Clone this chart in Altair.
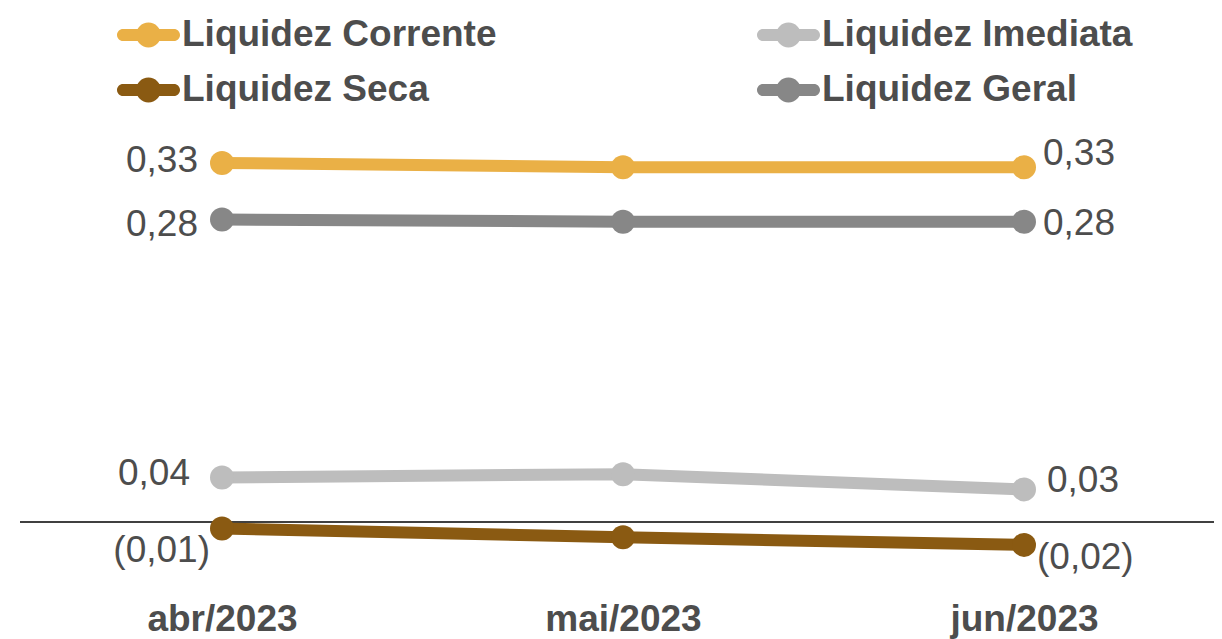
import altair as alt
import pandas as pd

months = ["abr/2023", "mai/2023", "jun/2023"]
series = ["Liquidez Corrente", "Liquidez Seca", "Liquidez Imediata", "Liquidez Geral"]
corrente = [0.330, 0.326, 0.326]
imediata = [0.041, 0.044, 0.030]
seca = [-0.006, -0.014, -0.021]
geral = [0.278, 0.276, 0.276]
colors = ["#EAB046", "#8A5A12", "#BDBDBD", "#878787"]

values = {
    "Liquidez Corrente": corrente,
    "Liquidez Imediata": imediata,
    "Liquidez Seca": seca,
    "Liquidez Geral": geral,
}
rows = []
for s in series:
    for i, m in enumerate(months):
        rows.append({"month": m, "series": s, "v": values[s][i], "idx": i})
df = pd.DataFrame(rows)

FONT = "Liberation Sans"
TXT = "#4D4D4D"

SYMBOL = ("M -1.275 -0.3 L 1.275 -0.3 A 0.3 0.3 0 0 1 1.275 0.3 L -1.275 0.3 "
          "A 0.3 0.3 0 0 1 -1.275 -0.3 Z M 0.62 0 A 0.62 0.62 0 1 1 -0.62 0 "
          "A 0.62 0.62 0 1 1 0.62 0 Z")

xscale = alt.Scale(range=[214, 1016], padding=0)
yscale = alt.Scale(domain=[-0.1075, 0.4724], nice=False, zero=False)
cscale = alt.Scale(domain=series, range=colors)

x_enc = alt.X("month:O", sort=months, scale=xscale, title=None,
              axis=alt.Axis(labelAngle=0, ticks=False, domain=False, grid=False,
                            labelFont=FONT, labelFontSize=37, labelFontWeight="bold",
                            labelColor=TXT, labelPadding=3, labelBaseline="top",
                            offset=-41))
y_enc = alt.Y("v:Q", scale=yscale, axis=None)

legend = alt.Legend(title=None, orient="none", legendX=120.5, legendY=7,
                    columns=2, columnPadding=259, rowPadding=17,
                    symbolType=SYMBOL, symbolSize=1600, symbolStrokeWidth=0,
                    symbolOpacity=1, labelFont=FONT, labelFontSize=37,
                    labelFontWeight="bold", labelColor=TXT, labelLimit=2000,
                    labelOffset=13.5, padding=0)
color_enc = alt.Color("series:N", scale=cscale, sort=series, legend=legend)

base = alt.Chart(df)

zero = alt.Chart(pd.DataFrame({"v": [0.0]})).mark_rule(color="black", strokeWidth=1.6).encode(
    y=alt.Y("v:Q", scale=yscale, axis=None), x=alt.value(12), x2=alt.value(1206))

lines = base.mark_line(strokeWidth=12, strokeCap="round").encode(
    x=x_enc, y=y_enc, color=color_enc, detail="series:N",
)
points = base.mark_circle(size=576, opacity=1).encode(
    x=x_enc, y=y_enc, color=color_enc,
)

left_off = {"Liquidez Corrente": (-24, 9), "Liquidez Geral": (-24, 16),
            "Liquidez Imediata": (-32, 8), "Liquidez Seca": (-12, 33)}
right_off = {"Liquidez Corrente": (19, -2), "Liquidez Geral": (19, 13),
             "Liquidez Imediata": (23, 3), "Liquidez Seca": (13, 24)}

label_expr = ("datum.v < 0 ? '(' + replace(format(-datum.v, '.2f'), '.', ',') + ')' : "
              "replace(format(datum.v, '.2f'), '.', ',')")

texts = []
for s in series:
    for idx, offs, align in [(0, left_off, "right"), (2, right_off, "left")]:
        dx, dy = offs[s]
        t = base.transform_filter(
            (alt.datum.series == s) & (alt.datum.idx == idx)
        ).transform_calculate(lab=label_expr).mark_text(
            align=align, baseline="alphabetic", dx=dx, dy=dy,
            font=FONT, fontSize=37, color=TXT
        ).encode(x=x_enc, y=y_enc, text="lab:N")
        texts.append(t)

chart = alt.layer(zero, lines, points, *texts).properties(
    width=1206, height=631, autosize=alt.AutoSizeParams(type="none"), padding=0
).configure_view(stroke=None)

chart.save("out.html", embed_options={"renderer": "svg", "actions": False})
